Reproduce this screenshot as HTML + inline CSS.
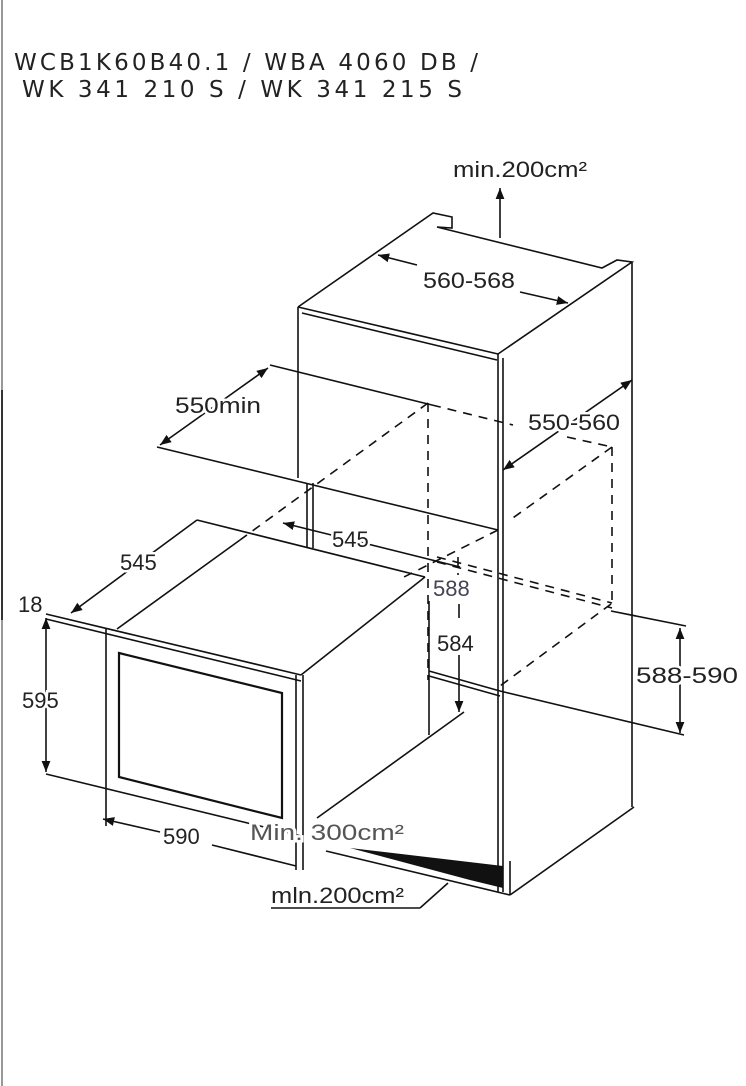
<!DOCTYPE html>
<html><head><meta charset="utf-8"><style>
html,body{margin:0;padding:0;background:#fff;}
svg{display:block}
text{font-family:"Liberation Sans",sans-serif;fill:#222;}
</style></head><body>
<svg width="746" height="1086" viewBox="0 0 746 1086" xmlns="http://www.w3.org/2000/svg">
<defs>
<marker id="a" viewBox="0 0 10 10" refX="10" refY="5" markerWidth="7" markerHeight="7" orient="auto-start-reverse"><path d="M0,1 L10,5 L0,9 z" fill="#111"/></marker>
</defs>
<line x1="2" y1="0" x2="2" y2="1086" stroke="#999" stroke-width="2"/>
<line x1="2" y1="390" x2="2" y2="620" stroke="#333" stroke-width="2"/>
<text x="14" y="70" style="font-family:'DejaVu Sans',sans-serif;font-size:23px" textLength="464" lengthAdjust="spacing">WCB1K60B40.1 / WBA 4060 DB /</text>
<text x="22" y="97" style="font-family:'DejaVu Sans',sans-serif;font-size:23px" textLength="440" lengthAdjust="spacing">WK 341 210 S /  WK 341 215 S</text>

<g stroke="#111" stroke-width="1.6" fill="none">
<line x1="500" y1="238" x2="500" y2="188" marker-end="url(#a)"/>
<polyline points="298,307 433,213 452,217 452,228 437,227 602,268 617,260 632,262 498,354"/>
<line x1="298" y1="307" x2="498" y2="354"/>
<line x1="302" y1="313" x2="497" y2="360"/>
<line x1="298" y1="307" x2="298" y2="478"/>
<line x1="498" y1="354" x2="498" y2="892"/>
<line x1="503" y1="358" x2="503" y2="892"/>
<line x1="632" y1="262" x2="632" y2="807"/>
<line x1="378" y1="255" x2="417" y2="265" marker-start="url(#a)"/>
<line x1="520" y1="292" x2="568" y2="303" marker-end="url(#a)"/>
<line x1="270" y1="365" x2="432" y2="405"/>
<line x1="157" y1="447" x2="498" y2="530"/>
<line x1="160" y1="445" x2="268" y2="368" marker-start="url(#a)" marker-end="url(#a)"/>
<line x1="632" y1="380" x2="503" y2="470" marker-start="url(#a)" marker-end="url(#a)"/>
<g stroke-dasharray="9,7">
<line x1="432" y1="405" x2="513" y2="425"/>
<line x1="567" y1="437" x2="612" y2="447"/>
<line x1="428" y1="403" x2="240" y2="540"/>
<line x1="428" y1="403" x2="428" y2="680"/>
<line x1="458" y1="557" x2="458" y2="575"/>
<line x1="612" y1="447" x2="612" y2="603"/>
<line x1="612" y1="447" x2="510" y2="520"/>
<line x1="498" y1="530" x2="404" y2="577"/>
<line x1="611" y1="604" x2="500" y2="686"/>
<line x1="437" y1="557" x2="612" y2="603"/>
<line x1="437" y1="562" x2="612" y2="608"/>
</g>
<line x1="283" y1="523" x2="460" y2="567" marker-start="url(#a)"/>
<line x1="307" y1="483" x2="307" y2="548"/>
<line x1="313" y1="483" x2="313" y2="548"/>
<line x1="117" y1="629" x2="240" y2="540"/>
<line x1="197" y1="520" x2="425" y2="577"/>
<line x1="425" y1="577" x2="301" y2="675"/>
<line x1="71" y1="613" x2="197" y2="520" marker-start="url(#a)"/>
<line x1="46" y1="614" x2="301" y2="675"/>
<line x1="46" y1="619" x2="301" y2="681"/>
<line x1="106" y1="629" x2="106" y2="826"/>
<line x1="296" y1="675" x2="296" y2="870"/>
<line x1="303" y1="675" x2="303" y2="870"/>
<line x1="46" y1="618" x2="46" y2="772" marker-start="url(#a)" marker-end="url(#a)"/>
<line x1="46" y1="774" x2="301" y2="836"/>
<line x1="103" y1="819" x2="160" y2="832" marker-start="url(#a)"/>
<line x1="212" y1="845" x2="296" y2="866"/>
<polygon points="119,653 282,693 282,818 119,777" stroke-width="2.2"/>
<line x1="429" y1="601" x2="429" y2="735"/>
<line x1="464" y1="712" x2="317" y2="818"/>
<line x1="459" y1="604" x2="459" y2="618"/>
<line x1="459" y1="655" x2="459" y2="712" marker-end="url(#a)"/>
<line x1="429" y1="671" x2="500" y2="691"/>
<line x1="429" y1="676" x2="500" y2="696"/>
<line x1="611" y1="611" x2="686" y2="626"/>
<line x1="500" y1="691" x2="684" y2="735"/>
<line x1="680" y1="628" x2="680" y2="733" marker-start="url(#a)" marker-end="url(#a)"/>
<line x1="634" y1="807" x2="510" y2="895"/>
<line x1="326" y1="851" x2="510" y2="895"/>
<line x1="510" y1="861" x2="510" y2="895"/>
<line x1="271" y1="908" x2="420" y2="908"/>
<line x1="420" y1="908" x2="448" y2="883"/>
</g>
<polygon points="350,848 503,866 503,888 470,880" fill="#111"/>

<g style="font-size:22px" stroke="#fff" stroke-width="5" paint-order="stroke">
<text x="453" y="177" textLength="134" lengthAdjust="spacingAndGlyphs">min.200cm²</text>
<text x="423" y="288" textLength="92" lengthAdjust="spacingAndGlyphs">560-568</text>
<text x="175" y="413" textLength="86" lengthAdjust="spacingAndGlyphs">550min</text>
<text x="528" y="430" textLength="92" lengthAdjust="spacingAndGlyphs">550-560</text>
<text x="332" y="547">545</text>
<text x="120" y="570">545</text>
<text x="433" y="596" style="fill:#445">588</text>
<text x="437" y="651">584</text>
<text x="18" y="612">18</text>
<text x="22" y="708">595</text>
<text x="636" y="683" textLength="102" lengthAdjust="spacingAndGlyphs">588-590</text>
<text x="163" y="844">590</text>
<text x="250" y="840" textLength="154" lengthAdjust="spacingAndGlyphs" style="fill:#555">Min. 300cm²</text>
<text x="271" y="903" textLength="133" lengthAdjust="spacingAndGlyphs">mln.200cm²</text>
</g>
</svg>
</body></html>
